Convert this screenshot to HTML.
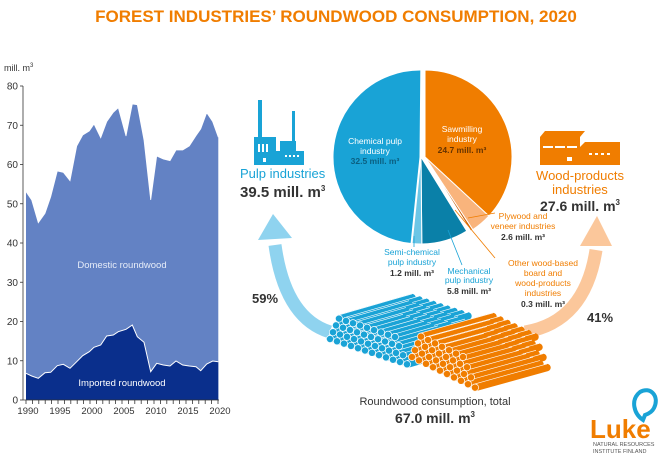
<!DOCTYPE html>
<html><head><meta charset="utf-8"><style>
html,body{margin:0;padding:0;background:#fff;}
body{width:671px;height:457px;overflow:hidden;font-family:"Liberation Sans","DejaVu Sans",sans-serif;}
</style></head><body>
<svg id="s" width="671" height="457" viewBox="0 0 671 457" xmlns="http://www.w3.org/2000/svg" font-family="Liberation Sans, DejaVu Sans, sans-serif">
<text x="336" y="22" text-anchor="middle" font-size="17" font-weight="bold" fill="#f07d00">FOREST INDUSTRIES’ ROUNDWOOD CONSUMPTION, 2020</text>
<text x="4" y="71" font-size="9" fill="#333">mill. m<tspan font-size="6" dy="-4">3</tspan></text>
<g id="chart"></g>
<g id="pie"></g>
<path d="M330,332 Q285,318 275,245" fill="none" stroke="#8fd3ef" stroke-width="13"/>
<polygon points="258,240 273,214 292,238" fill="#8fd3ef"/>
<path d="M525,332 Q585,322 596,250" fill="none" stroke="#fbc79b" stroke-width="13"/>
<polygon points="580,246 597,216 612,246" fill="#fbc79b"/>
<g id="logs"></g>
<g fill="#19a3d6">
<rect x="258" y="100" width="4" height="40"/><rect x="292" y="111" width="3" height="30"/>
<rect x="254" y="137" width="22" height="28"/><rect x="276" y="151" width="28" height="14"/>
<rect x="280" y="141" width="16" height="10"/>
</g>
<g fill="#fff"><rect x="258" y="144" width="2" height="8"/><rect x="262" y="144" width="2" height="8"/><rect x="266" y="144" width="2" height="8"/><rect x="285" y="155" width="2" height="2"/><rect x="289" y="155" width="2" height="2"/><rect x="293" y="155" width="2" height="2"/><rect x="297" y="155" width="2" height="2"/><rect x="263" y="158" width="3" height="4"/></g>
<g fill="#f07d00">
<rect x="540" y="137" width="40" height="28"/><polygon points="540,137 545,131 585,131 580,137"/>
<rect x="580" y="147" width="40" height="18"/><polygon points="580,147 585,142 620,142 620,147"/>
</g>
<g fill="#fff"><rect x="543" y="146" width="10" height="2"/><rect x="555" y="146" width="10" height="2"/><rect x="567" y="146" width="10" height="2"/><rect x="589" y="153" width="3" height="2"/><rect x="595" y="153" width="3" height="2"/><rect x="601" y="153" width="3" height="2"/><rect x="607" y="153" width="3" height="2"/><rect x="567" y="157" width="5" height="4"/></g>
<text x="240" y="178" font-size="13" fill="#19a3d6">Pulp industries</text>
<text x="240" y="197" font-size="15" font-weight="bold" fill="#333">39.5 mill. m<tspan font-size="8" dy="-6">3</tspan></text>
<text x="580" y="180" text-anchor="middle" font-size="13" fill="#f07d00">Wood-products</text>
<text x="580" y="194" text-anchor="middle" font-size="13" fill="#f07d00">industries</text>
<text x="580" y="211" text-anchor="middle" font-size="14" font-weight="bold" fill="#333">27.6 mill. m<tspan font-size="8" dy="-6">3</tspan></text>
<g font-size="8.5" text-anchor="middle">
<text x="375" y="144" fill="#fff">Chemical pulp</text><text x="375" y="154" fill="#fff">industry</text>
<text x="375" y="164" fill="#0b5f80" font-weight="bold">32.5 mill. m³</text>
<text x="462" y="132" fill="#fff">Sawmilling</text><text x="462" y="142" fill="#fff">industry</text>
<text x="462" y="153" fill="#663300" font-weight="bold">24.7 mill. m³</text>
<text x="412" y="255" fill="#19a3d6">Semi-chemical</text><text x="412" y="265" fill="#19a3d6">pulp industry</text>
<text x="412" y="276" fill="#333" font-weight="bold">1.2 mill. m³</text>
<text x="469" y="274" fill="#19a3d6">Mechanical</text><text x="469" y="283" fill="#19a3d6">pulp industry</text>
<text x="469" y="294" fill="#333" font-weight="bold">5.8 mill. m³</text>
<text x="523" y="219" fill="#f07d00">Plywood and</text><text x="523" y="229" fill="#f07d00">veneer industries</text>
<text x="523" y="240" fill="#333" font-weight="bold">2.6 mill. m³</text>
<text x="543" y="266" fill="#f07d00">Other wood-based</text><text x="543" y="276" fill="#f07d00">board and</text>
<text x="543" y="286" fill="#f07d00">wood-products</text><text x="543" y="296" fill="#f07d00">industries</text>
<text x="543" y="307" fill="#333" font-weight="bold">0.3 mill. m³</text>
</g>
<g stroke-width="0.8" fill="none">
<line x1="414" y1="236" x2="414" y2="247" stroke="#19a3d6"/>
<line x1="448" y1="230" x2="462" y2="265" stroke="#19a3d6"/>
<line x1="468" y1="218" x2="495" y2="213" stroke="#f07d00"/>
<line x1="455" y1="210" x2="495" y2="258" stroke="#f07d00"/>
</g>
<text x="252" y="303" font-size="13" font-weight="bold" fill="#333">59%</text>
<text x="587" y="322" font-size="13" font-weight="bold" fill="#333">41%</text>
<text x="435" y="405" text-anchor="middle" font-size="11" fill="#333">Roundwood consumption, total</text>
<text x="435" y="423" text-anchor="middle" font-size="14" font-weight="bold" fill="#333">67.0 mill. m<tspan font-size="8" dy="-6">3</tspan></text>
<path d="M643,420 C634,414 630,400 640,392 C650,386 660,396 654,408 C652,412 648,414 645,415 Z" fill="none" stroke="#19a3d6" stroke-width="4"/>
<text x="590" y="438" font-size="26" font-weight="bold" fill="#f07d00">Luke</text>
<text x="593" y="446" font-size="5.5" fill="#555">NATURAL RESOURCES</text>
<text x="593" y="453" font-size="5.5" fill="#555">INSTITUTE FINLAND</text>
</svg>
<script>
(function(){
var NS="http://www.w3.org/2000/svg";
function el(p,t,a){var e=document.createElementNS(NS,t);for(var k in a)e.setAttribute(k,a[k]);p.appendChild(e);return e;}
var ch=document.getElementById("chart");
var tp=[[78,395],[95,420],[115,488],[135,460],[152,410],[172,333],[190,337],[210,362],[230,258],[248,225],[268,213],[282,192],[302,233],[320,185],[340,157],[355,143],[378,228],[397,132],[412,134],[432,240],[452,420],[470,288],[490,297],[510,302],[528,270],[548,270],[568,258],[588,227],[602,207],[620,158],[638,185],[655,232]];
var bt=[[78,940],[95,948],[115,955],[135,938],[152,937],[172,917],[190,913],[210,925],[230,905],[248,887],[268,875],[282,862],[302,855],[320,828],[340,825],[355,815],[378,808],[397,795],[412,830],[432,847],[452,935],[470,910],[490,915],[510,918],[528,903],[548,915],[568,918],[588,920],[602,932],[620,912],[638,903],[655,905]];
function pts(a){return a.map(function(p){return (p[0]/3).toFixed(1)+","+(p[1]/3+60).toFixed(1)}).join(" ");}
el(ch,"polygon",{points:pts(tp)+" 218.3,400 26,400",fill:"#6382c4"});
el(ch,"polygon",{points:pts(bt)+" 218.3,400 26,400",fill:"#0a2f8c"});
el(ch,"polyline",{points:pts(bt),fill:"none",stroke:"#fff","stroke-width":1});
el(ch,"polyline",{points:pts(tp),fill:"none",stroke:"#fff","stroke-width":0.8});
el(ch,"line",{x1:23,y1:86,x2:23,y2:400,stroke:"#333","stroke-width":0.8});
el(ch,"line",{x1:23,y1:400,x2:219,y2:400,stroke:"#333","stroke-width":0.8});
for(var v=0;v<=80;v+=10){var y=400-v*3.925;el(ch,"line",{x1:20,y1:y,x2:23,y2:y,stroke:"#333","stroke-width":0.8});var t=el(ch,"text",{x:18,y:y+3.5,"font-size":10,"text-anchor":"end",fill:"#333"});t.textContent=v;}
for(var i=0;i<=30;i++){var x=26+i*6.4;el(ch,"line",{x1:x,y1:400,x2:x,y2:404,stroke:"#333","stroke-width":0.8});if(i%5==0){var t=el(ch,"text",{x:x+2,y:414,"font-size":9.5,"text-anchor":"middle",fill:"#333"});t.textContent=1990+i;}}
var t=el(ch,"text",{x:122,y:268,"font-size":9.5,"text-anchor":"middle",fill:"#e6ecf8"});t.textContent="Domestic roundwood";
t=el(ch,"text",{x:122,y:386,"font-size":9.5,"text-anchor":"middle",fill:"#fff"});t.textContent="Imported roundwood";
var pie=document.getElementById("pie");var cx=421,cy=157,r=87;
var sl=[[24.7,"#f07d00",4,0],[2.6,"#f9b47c",4,0],[0.3,"#c95a00",4,0],[5.8,"#0a80a8",0,0],[1.2,"#6cc6e6",0,0],[32.5,"#19a3d6",-1,0]];
var a=0;
sl.forEach(function(s){var a2=a+s[0]/67*2*Math.PI;var ox=cx+s[2],oy=cy+s[3];
var x1=ox+r*Math.sin(a),y1=oy-r*Math.cos(a),x2=ox+r*Math.sin(a2),y2=oy-r*Math.cos(a2);
el(pie,"path",{d:"M"+ox+","+oy+"L"+x1+","+y1+"A"+r+","+r+" 0 "+((a2-a)>Math.PI?1:0)+" 1 "+x2+","+y2+"Z",fill:s[1],stroke:"#fff","stroke-width":1});a=a2;});
var lg=document.getElementById("logs");
function pile(x0,y0,rows,n,dx,dy,rx,ry,col,ldx,ldy){
 for(var rI=rows-1;rI>=0;rI--){for(var k=0;k<n-rI;k++){var x=x0+k*dx+rI*rx,y=y0+k*dy+rI*ry;
  el(lg,"line",{x1:x,y1:y,x2:x+ldx,y2:y+ldy,stroke:col,"stroke-width":7.4,"stroke-linecap":"round"});
  el(lg,"line",{x1:x,y1:y-3.7,x2:x+ldx,y2:y+ldy-3.7,stroke:"#fff","stroke-width":0.6});
 }}
 for(var rI=rows-1;rI>=0;rI--){for(var k=0;k<n-rI;k++){var x=x0+k*dx+rI*rx,y=y0+k*dy+rI*ry;
  el(lg,"circle",{cx:x,cy:y,r:3.6,fill:col,stroke:"#fff","stroke-width":0.7});}}
}
pile(330,339,4,12,7.0,2.3,3.0,-6.8,"#1aa3d6",73,-21);
pile(412,357,4,10,7.0,3.4,3.0,-6.8,"#f07d00",72,-20);
})();
</script>
</body></html>
